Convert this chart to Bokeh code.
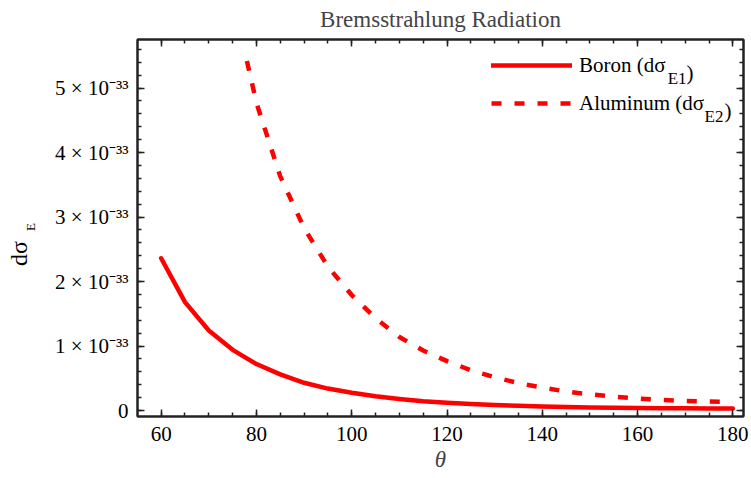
from bokeh.plotting import figure
from bokeh.models import (Label, FixedTicker, CustomJSTickFormatter, LinearAxis,
                          Range1d, Legend, LegendItem, CustomLabelingPolicy, Div)
from bokeh.layouts import row
from bokeh.embed import file_html
from bokeh.resources import INLINE

# ---------------- data (values in units of 1e-33) ----------------
SCALE = 1e-33
theta_boron = [60, 65, 70, 75, 80, 85, 90, 95, 100, 105, 110, 115, 120, 125,
               130, 135, 140, 145, 150, 155, 160, 165, 170, 175, 180]
boron = [2.36, 1.68, 1.24, 0.94, 0.72, 0.56, 0.43, 0.34, 0.275, 0.22, 0.18,
         0.145, 0.12, 0.10, 0.085, 0.072, 0.062, 0.054, 0.047, 0.042, 0.038,
         0.035, 0.033, 0.032, 0.031]
theta_al = [78, 80, 85, 90, 95, 100, 105, 110, 115, 120, 125, 130, 135, 140,
            145, 150, 155, 160, 165, 170, 175, 180]
aluminum = [5.42, 4.77, 3.63, 2.83, 2.23, 1.79, 1.43, 1.14, 0.93, 0.765, 0.625,
            0.515, 0.425, 0.355, 0.295, 0.25, 0.215, 0.185, 0.163, 0.148,
            0.138, 0.132]
x_major = [60, 80, 100, 120, 140, 160, 180]
x_minor = list(range(55, 185, 5))
y_major = [0, 1, 2, 3, 4, 5]
y_minor = [i * 0.2 for i in range(0, 29)]

title_text = "Bremsstrahlung Radiation"
x_label = "θ"
y_label_main, y_label_sub = "dσ", "E"
series_main = ["Boron (dσ", "Aluminum (dσ"]
series_sub = ["E1", "E2"]

# ---------------- layout constants ----------------
FONT = "Liberation Serif"
W, H = 750, 477
DIV_W = 40                       # width of the rotated y-label column
FRAME_L, FRAME_R, FRAME_T, FRAME_B = 137, 744, 39, 416   # page pixels
PXU = 4.772      # px per x unit
PYU = 64.5       # px per 1e-33
ZERO_Y = 410.0
X0 = 60 - (160.7 - FRAME_L) / PXU
X1 = X0 + (FRAME_R - FRAME_L) / PXU
Y0 = (ZERO_Y - FRAME_B) / PYU
Y1 = (ZERO_Y - FRAME_T) / PYU


def page_to_data(X, Y):
    return X0 + (X - FRAME_L) / PXU, (ZERO_Y - Y) / PYU * SCALE


p = figure(width=W - DIV_W, height=H, output_backend="svg",
           toolbar_location=None,
           x_range=Range1d(X0, X1), y_range=Range1d(Y0 * SCALE, Y1 * SCALE),
           min_border_left=FRAME_L - DIV_W, min_border_right=W - FRAME_R,
           min_border_top=FRAME_T, min_border_bottom=H - FRAME_B, margin=0)
p.xgrid.grid_line_color = None
p.ygrid.grid_line_color = None
p.outline_line_color = "#222222"
p.outline_line_width = 2
p.background_fill_color = "white"
p.border_fill_color = "white"

p.title.text = title_text
p.title.text_font = FONT
p.title.text_font_size = "23px"
p.title.text_font_style = "normal"
p.title.align = "center"
p.title.vertical_align = "top"
p.title.standoff = 4

xt = FixedTicker(ticks=x_major, minor_ticks=x_minor)
yt = FixedTicker(ticks=[v * SCALE for v in y_major],
                 minor_ticks=[v * SCALE for v in y_minor])


def style_axis(ax, labels=True):
    ax.axis_line_color = "#222222"
    ax.axis_line_width = 2
    ax.major_tick_line_color = "#222222"
    ax.minor_tick_line_color = "#222222"
    ax.major_tick_line_width = 1.5
    ax.minor_tick_line_width = 1.5
    ax.major_tick_in = 7
    ax.major_tick_out = 0
    ax.minor_tick_in = 4
    ax.minor_tick_out = 0
    ax.major_label_text_font = FONT
    ax.major_label_text_color = "black"
    if labels:
        ax.major_label_text_font_size = "21px"
    else:
        ax.major_label_text_font_size = "1px"
        ax.major_label_standoff = 0
        ax.major_label_policy = CustomLabelingPolicy(code="return []")


xa = p.xaxis[0]
xa.ticker = xt
style_axis(xa)
xa.major_label_standoff = 10
xa.axis_label = x_label
xa.axis_label_text_font = FONT
xa.axis_label_text_font_size = "23px"
xa.axis_label_text_font_style = "italic"
xa.axis_label_standoff = 3

ya = p.yaxis[0]
ya.ticker = yt
style_axis(ya)
ya.major_label_standoff = 9
ya.formatter = CustomJSTickFormatter(code="""
if (Math.abs(tick) < 1e-40) { return "0"; }
return Math.round(tick / 1e-33) + " \u00d7 10\u207b\u00b3\u00b3";
""")

top = LinearAxis(ticker=xt)
style_axis(top, labels=False)
p.add_layout(top, "above")
right = LinearAxis(ticker=yt)
style_axis(right, labels=False)
p.add_layout(right, "right")

# ---------------- curves ----------------
rb = p.line(theta_boron, [v * SCALE for v in boron], line_color="#ff0000",
            line_width=4.5, line_join="round", line_cap="round")
ra = p.line(theta_al, [v * SCALE for v in aluminum], line_color="#ff0000",
            line_width=4.5, line_dash="10 13", line_join="round")

legend = Legend(items=[LegendItem(label=series_main[0], renderers=[rb]),
                       LegendItem(label=series_main[1], renderers=[ra])],
                location="top_right", orientation="vertical", margin=7,
                padding=0, spacing=0, glyph_width=81, glyph_height=38,
                label_standoff=7, label_width=157, label_height=38,
                label_text_font=FONT, label_text_font_size="21px",
                label_text_color="black", border_line_color=None,
                background_fill_alpha=0)
p.add_layout(legend)


def add_text(text, X, Y, size):
    x, y = page_to_data(X, Y)
    p.add_layout(Label(x=x, y=y, text=text, text_font=FONT,
                       text_font_size=f"{size}px", text_align="left",
                       text_baseline="alphabetic", text_color="black"))


add_text(series_sub[0], 668, 78, 17)
add_text(")", 687, 72, 21)
add_text(series_sub[1], 705, 116, 17)
add_text(")", 725, 110, 21)


# ---------------- rotated y-axis label (HTML) ----------------
def rot_span(text, size, baseline_x, start_y):
    left = baseline_x - 0.8375 * size
    return (f'<span class="yl" style="left:{left:.1f}px;font-size:{size}px;'
            f'--sy:{start_y}px;--sb:{H - start_y}px;">{text}</span>')


ylab_html = (
    "<style>"
    ".yl{position:absolute;top:var(--sy);line-height:1;white-space:nowrap;"
    "transform:rotate(-90deg);transform-origin:0 0;}"
    "@supports (writing-mode: sideways-lr){"
    ".yl{writing-mode:sideways-lr;transform:none;top:auto;bottom:var(--sb);}}"
    "</style>"
    f'<div style="position:relative;width:{DIV_W}px;height:{H}px;'
    "font-family:'Liberation Serif',serif;color:black;\">"
    + rot_span(y_label_main, 24, 27, 266)
    + rot_span(y_label_sub, 13, 35, 231)
    + "</div>")
ydiv = Div(text=ylab_html, width=DIV_W, height=H, margin=0)

layout = row(ydiv, p, spacing=0)
open("out.html", "w", encoding="utf-8").write(file_html(layout, INLINE))
